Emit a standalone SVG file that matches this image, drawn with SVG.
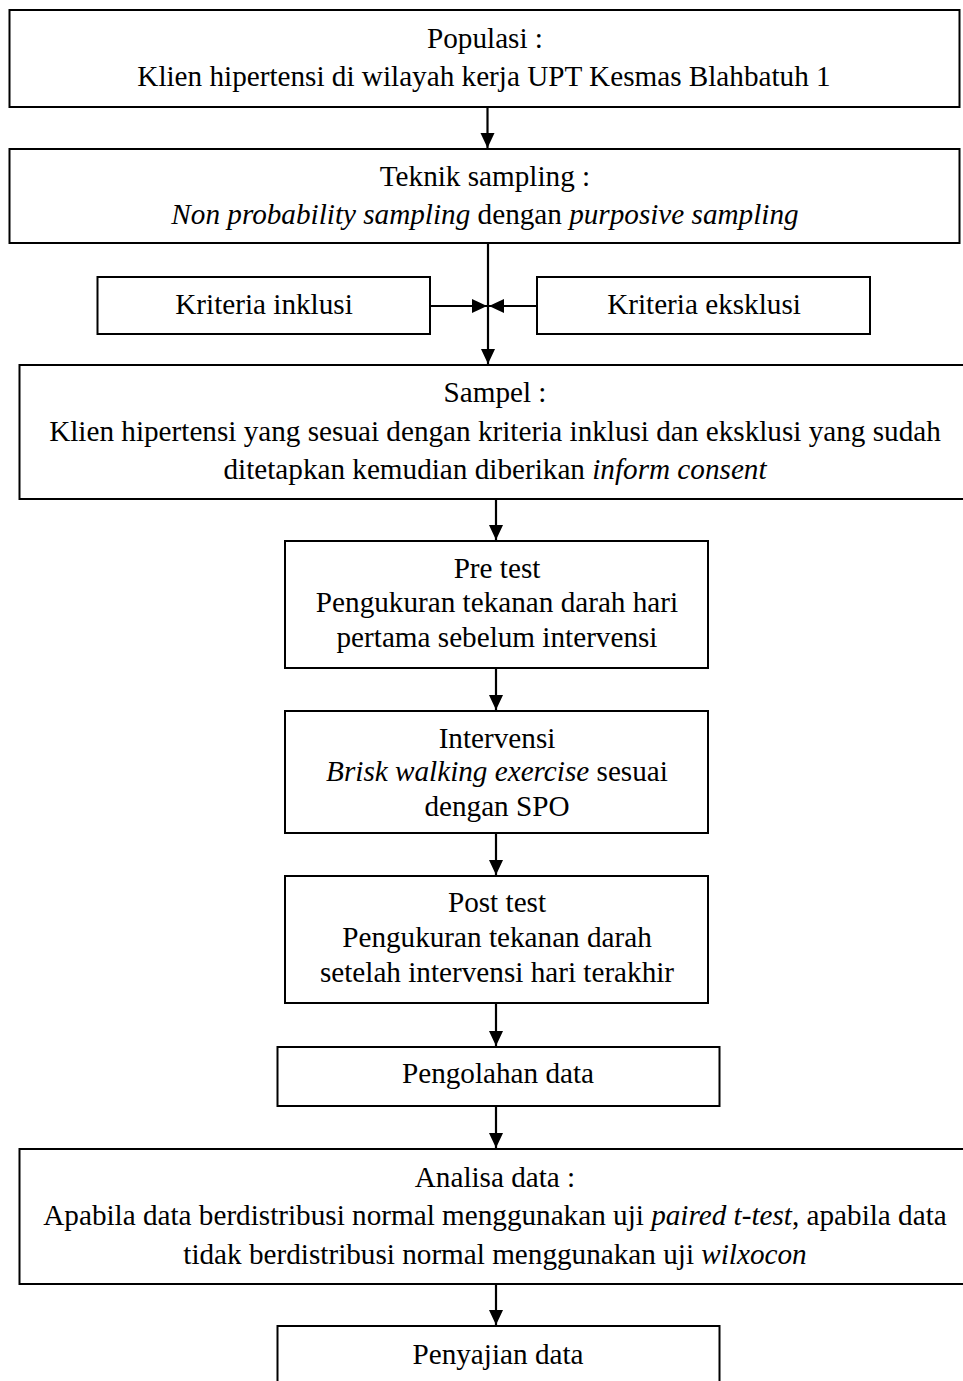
<svg xmlns="http://www.w3.org/2000/svg" width="963" height="1381" viewBox="0 0 963 1381">
<style>
  .box { fill: #ffffff; stroke: #000000; stroke-width: 2; }
  .t { font-family: "Liberation Serif", "Times New Roman", serif; font-size: 29.2px; fill: #000000; text-anchor: middle; }
  .i { font-style: italic; }
  .c { stroke: #000000; stroke-width: 2.2; fill: none; marker-end: url(#arr); }
</style>
<defs>
  <marker id="arr" markerUnits="userSpaceOnUse" markerWidth="16" markerHeight="16" refX="15" refY="8" orient="auto">
    <path d="M0,1 L15,8 L0,15 z" fill="#000000"/>
  </marker>
</defs>
<rect width="963" height="1381" fill="#ffffff"/>

<g id="connectors">
  <line class="c" x1="487.5" y1="107" x2="487.5" y2="148"/>
  <line class="c" x1="488" y1="243" x2="488" y2="364"/>
  <line class="c" x1="430" y1="306" x2="487" y2="306"/>
  <line class="c" x1="537" y1="306" x2="489" y2="306"/>
  <line class="c" x1="496" y1="499" x2="496" y2="540"/>
  <line class="c" x1="496" y1="668" x2="496" y2="710"/>
  <line class="c" x1="496" y1="833" x2="496" y2="875"/>
  <line class="c" x1="496" y1="1003" x2="496" y2="1046"/>
  <line class="c" x1="496" y1="1106" x2="496" y2="1148"/>
  <line class="c" x1="496" y1="1284" x2="496" y2="1325"/>
</g>

<g id="populasi">
  <rect class="box" x="9.5" y="10" width="950" height="97"/>
  <text class="t" x="485" y="47.7">Populasi :</text>
  <text class="t" x="484" y="86">Klien hipertensi di wilayah kerja UPT Kesmas Blahbatuh 1</text>
</g>

<g id="teknik">
  <rect class="box" x="9.5" y="149" width="950" height="94"/>
  <text class="t" x="485" y="185.7">Teknik sampling :</text>
  <text class="t" x="485" y="224"><tspan class="i">Non probability sampling</tspan> dengan <tspan class="i">purposive sampling</tspan></text>
</g>

<g id="inklusi">
  <rect class="box" x="97.5" y="277" width="332.5" height="57"/>
  <text class="t" x="264" y="314.3">Kriteria inklusi</text>
</g>

<g id="eksklusi">
  <rect class="box" x="537" y="277" width="333" height="57"/>
  <text class="t" x="704" y="314.3">Kriteria eksklusi</text>
</g>

<g id="sampel">
  <rect class="box" x="19.5" y="365" width="960" height="134"/>
  <text class="t" x="495" y="401.7">Sampel :</text>
  <text class="t" x="495" y="440.7">Klien hipertensi yang sesuai dengan kriteria inklusi dan eksklusi yang sudah</text>
  <text class="t" x="495" y="478.7">ditetapkan kemudian diberikan <tspan class="i">inform consent</tspan></text>
</g>

<g id="pretest">
  <rect class="box" x="285" y="541" width="423" height="127"/>
  <text class="t" x="497" y="578.3">Pre test</text>
  <text class="t" x="497" y="611.7">Pengukuran tekanan darah hari</text>
  <text class="t" x="497" y="646.7">pertama sebelum intervensi</text>
</g>

<g id="intervensi">
  <rect class="box" x="285" y="711" width="423" height="122"/>
  <text class="t" x="497" y="748.3">Intervensi</text>
  <text class="t" x="497" y="780.7"><tspan class="i">Brisk walking exercise</tspan> sesuai</text>
  <text class="t" x="497" y="815.7">dengan SPO</text>
</g>

<g id="posttest">
  <rect class="box" x="285" y="876" width="423" height="127"/>
  <text class="t" x="497" y="912.3">Post test</text>
  <text class="t" x="497" y="946.7">Pengukuran tekanan darah</text>
  <text class="t" x="497" y="981.7">setelah intervensi hari terakhir</text>
</g>

<g id="pengolahan">
  <rect class="box" x="277.5" y="1047" width="442" height="59"/>
  <text class="t" x="498" y="1083.3">Pengolahan data</text>
</g>

<g id="analisa">
  <rect class="box" x="19.5" y="1149" width="960" height="135"/>
  <text class="t" x="495" y="1186.7">Analisa data :</text>
  <text class="t" x="495" y="1225">Apabila data berdistribusi normal menggunakan uji <tspan class="i">paired t-test</tspan>, apabila data</text>
  <text class="t" x="495" y="1264">tidak berdistribusi normal menggunakan uji <tspan class="i">wilxocon</tspan></text>
</g>

<g id="penyajian">
  <rect class="box" x="277.5" y="1326" width="442" height="70"/>
  <text class="t" x="498" y="1364.3">Penyajian data</text>
</g>
</svg>
